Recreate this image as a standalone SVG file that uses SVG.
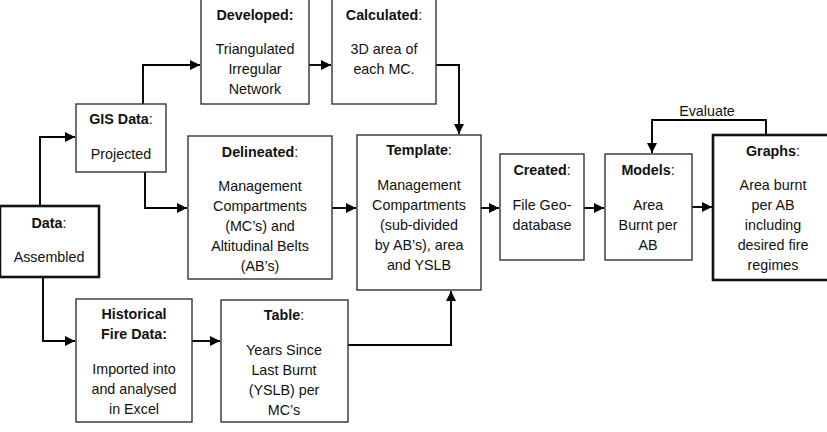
<svg xmlns="http://www.w3.org/2000/svg" width="827" height="432" viewBox="0 0 827 432">
<defs>
<marker id="ah" viewBox="0 0 10 10" refX="10" refY="5" markerWidth="10" markerHeight="10" markerUnits="userSpaceOnUse" orient="auto">
<path d="M0,0 L10,5 L0,10 z" fill="#000"/>
</marker>
<style>
.box{fill:#fff;stroke:#333;stroke-width:1.4}
.thick{fill:#fff;stroke:#111;stroke-width:2.6}
.c{fill:none;stroke:#000;stroke-width:1.9;marker-end:url(#ah)}
text{font-family:"Liberation Sans",Arial,sans-serif;font-size:14.3px;fill:#111;text-anchor:middle}
.b{font-weight:bold}
</style>
</defs>
<rect width="827" height="432" fill="#fff"/>
<g id="connectors">
<path class="c" d="M40,206 V137 H75"/>
<path class="c" d="M143,104 V65 H200"/>
<path class="c" d="M309,65 H331"/>
<path class="c" d="M436,65 H459 V134"/>
<path class="c" d="M145,172 V208 H187"/>
<path class="c" d="M332,208 H356"/>
<path class="c" d="M481,208 H499"/>
<path class="c" d="M584,208 H604"/>
<path class="c" d="M692,207 H712"/>
<path class="c" d="M766,135 V120 H652 V153"/>
<path class="c" d="M43,278 V341 H75"/>
<path class="c" d="M192,341 H220"/>
<path class="c" d="M348,345 H451 V291"/>
</g>
<g id="data">
<rect class="thick" x="0" y="206" width="99" height="71"/>
<text x="49" y="228"><tspan class="b">Data</tspan>:</text>
<text x="49" y="262">Assembled</text>
</g>
<g id="gis">
<rect class="box" x="76" y="104" width="90" height="68"/>
<text x="121" y="124"><tspan class="b">GIS Data</tspan>:</text>
<text x="121" y="159">Projected</text>
</g>
<g id="developed">
<rect class="box" x="201" y="-1" width="108" height="105"/>
<text x="255" y="20" class="b">Developed:</text>
<text x="255" y="54">Triangulated</text>
<text x="255" y="74">Irregular</text>
<text x="255" y="94">Network</text>
</g>
<g id="calculated">
<rect class="box" x="332" y="-1" width="104" height="105"/>
<text x="384" y="20"><tspan class="b">Calculated</tspan>:</text>
<text x="384" y="54">3D area of</text>
<text x="384" y="74">each MC.</text>
</g>
<g id="delineated">
<rect class="box" x="188" y="136" width="144" height="143"/>
<text x="260" y="157"><tspan class="b">Delineated</tspan>:</text>
<text x="260" y="191">Management</text>
<text x="260" y="211">Compartments</text>
<text x="260" y="231">(MC’s) and</text>
<text x="260" y="251">Altitudinal Belts</text>
<text x="260" y="271">(AB’s)</text>
</g>
<g id="template">
<rect class="box" x="357" y="135" width="124" height="155"/>
<text x="419" y="155"><tspan class="b">Template</tspan>:</text>
<text x="419" y="190">Management</text>
<text x="419" y="210">Compartments</text>
<text x="419" y="230">(sub-divided</text>
<text x="419" y="250">by AB’s), area</text>
<text x="419" y="270">and YSLB</text>
</g>
<g id="created">
<rect class="box" x="500" y="154" width="84" height="106"/>
<text x="542" y="175"><tspan class="b">Created</tspan>:</text>
<text x="542" y="210">File Geo-</text>
<text x="542" y="230">database</text>
</g>
<g id="models">
<rect class="box" x="605" y="154" width="87" height="106"/>
<text x="648" y="175"><tspan class="b">Models</tspan>:</text>
<text x="648" y="210">Area</text>
<text x="648" y="230">Burnt per</text>
<text x="648" y="250">AB</text>
</g>
<g id="graphs">
<rect class="thick" x="713" y="135" width="122" height="145"/>
<text x="773" y="156"><tspan class="b">Graphs</tspan>:</text>
<text x="773" y="190">Area burnt</text>
<text x="773" y="210">per AB</text>
<text x="773" y="230">including</text>
<text x="773" y="250">desired fire</text>
<text x="773" y="270">regimes</text>
</g>
<g id="evaluate">
<text x="707" y="116">Evaluate</text>
</g>
<g id="historical">
<rect class="box" x="76" y="299" width="116" height="123"/>
<text x="134" y="319" class="b">Historical</text>
<text x="134" y="339" class="b">Fire Data:</text>
<text x="134" y="374">Imported into</text>
<text x="134" y="394">and analysed</text>
<text x="134" y="414">in Excel</text>
</g>
<g id="table">
<rect class="box" x="221" y="300" width="127" height="122"/>
<text x="284" y="320"><tspan class="b">Table</tspan>:</text>
<text x="284" y="355">Years Since</text>
<text x="284" y="375">Last Burnt</text>
<text x="284" y="395">(YSLB) per</text>
<text x="284" y="415">MC’s</text>
</g>
</svg>
